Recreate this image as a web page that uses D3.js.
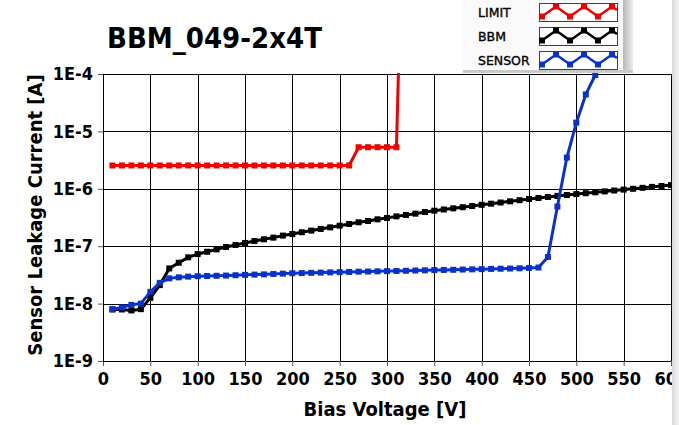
<!DOCTYPE html>
<html>
<head>
<meta charset="utf-8">
<script src="https://cdn.jsdelivr.net/npm/d3@7"></script>
<style>
  html, body { margin: 0; padding: 0; background: #ffffff; }
  svg { display: block; }
</style>
</head>
<body>
<svg id="chart" width="679" height="425"></svg>
<script>
// ---------------- data ----------------
const chartTitle = "BBM_049-2x4T";
const xTickValues = [0, 50, 100, 150, 200, 250, 300, 350, 400, 450, 500, 550, 600];
const yTickValues = [1e-9, 1e-8, 1e-7, 1e-6, 1e-5, 1e-4];
const yTickLabels = ["1E-9", "1E-8", "1E-7", "1E-6", "1E-5", "1E-4"];
const seriesNames = ["LIMIT", "BBM", "SENSOR"];
const seriesColors = ["#f00000", "#000000", "#0a32c8"];

const limitVoltage = [10, 20, 30, 40, 50, 60, 70, 80, 90, 100, 110, 120, 130, 140, 150, 160, 170, 180, 190, 200,
  210, 220, 230, 240, 250, 260, 270, 280, 290, 300, 310, 320];
const limitCurrent = [2.55e-6, 2.55e-6, 2.55e-6, 2.55e-6, 2.55e-6, 2.55e-6, 2.55e-6, 2.55e-6, 2.55e-6, 2.55e-6,
  2.55e-6, 2.55e-6, 2.55e-6, 2.55e-6, 2.55e-6, 2.55e-6, 2.55e-6, 2.55e-6, 2.55e-6, 2.55e-6,
  2.55e-6, 2.55e-6, 2.55e-6, 2.55e-6, 2.55e-6, 2.55e-6, 5.3e-6, 5.3e-6, 5.3e-6, 5.3e-6, 5.3e-6, 10];

const bbmVoltage = [10, 20, 30, 40, 50, 60, 70, 80, 90, 100, 110, 120, 130, 140, 150, 160, 170, 180, 190, 200,
  210, 220, 230, 240, 250, 260, 270, 280, 290, 300, 310, 320, 330, 340, 350, 360, 370, 380, 390, 400,
  410, 420, 430, 440, 450, 460, 470, 480, 490, 500, 510, 520, 530, 540, 550, 560, 570, 580, 590, 600];
const bbmCurrent = [7.9e-9, 7.9e-9, 7.6e-9, 8.0e-9, 1.26e-8, 2.1e-8, 4.1e-8, 5.15e-8, 6.4e-8, 7.3e-8,
  8.0e-8, 8.8e-8, 9.7e-8, 1.05e-7, 1.14e-7, 1.23e-7, 1.32e-7, 1.41e-7, 1.53e-7, 1.63e-7,
  1.75e-7, 1.87e-7, 2.0e-7, 2.13e-7, 2.28e-7, 2.44e-7, 2.61e-7, 2.75e-7, 2.94e-7, 3.10e-7,
  3.31e-7, 3.50e-7, 3.69e-7, 3.94e-7, 4.16e-7, 4.36e-7, 4.57e-7, 4.78e-7, 5.01e-7, 5.26e-7,
  5.50e-7, 5.77e-7, 6.05e-7, 6.33e-7, 6.64e-7, 6.92e-7, 7.20e-7, 7.50e-7, 7.80e-7, 8.09e-7,
  8.38e-7, 8.69e-7, 9.01e-7, 9.34e-7, 9.68e-7, 1.00e-6, 1.04e-6, 1.08e-6, 1.12e-6, 1.16e-6];

const sensorVoltage = [10, 20, 30, 40, 50, 60, 70, 80, 90, 100, 110, 120, 130, 140, 150, 160, 170, 180, 190, 200,
  210, 220, 230, 240, 250, 260, 270, 280, 290, 300, 310, 320, 330, 340, 350, 360, 370, 380, 390, 400,
  410, 420, 430, 440, 450, 460, 470, 480, 490, 500, 510, 520];
const sensorCurrent = [8.0e-9, 8.6e-9, 9.5e-9, 1.0e-8, 1.6e-8, 2.3e-8, 2.75e-8, 2.87e-8, 2.95e-8, 3.0e-8,
  3.02e-8, 3.05e-8, 3.08e-8, 3.12e-8, 3.17e-8, 3.2e-8, 3.23e-8, 3.28e-8, 3.33e-8, 3.38e-8,
  3.40e-8, 3.43e-8, 3.47e-8, 3.50e-8, 3.53e-8, 3.56e-8, 3.6e-8, 3.62e-8, 3.65e-8, 3.68e-8,
  3.70e-8, 3.73e-8, 3.77e-8, 3.80e-8, 3.84e-8, 3.86e-8, 3.88e-8, 3.92e-8, 3.95e-8, 3.98e-8,
  4.02e-8, 4.05e-8, 4.08e-8, 4.12e-8, 4.18e-8, 4.25e-8, 6.5e-8, 4.9e-7, 3.5e-6, 1.42e-5,
  4.4e-5, 9.6e-5];

// ---------------- layout ----------------
const svg = d3.select("#chart");
const W = 679, H = 425;
const plot = { left: 103, right: 671, top: 74, bottom: 361 };
const FONT = "'DejaVu Sans Condensed', 'DejaVu Sans', Verdana, sans-serif";
const FONT_SMALL = "'DejaVu Sans', Verdana, sans-serif";

const x = d3.scaleLinear().domain([0, 600]).range([plot.left, plot.right]);
const y = d3.scaleLog().domain([1e-9, 1e-4]).range([plot.bottom, plot.top]);

svg.append("rect").attr("width", W).attr("height", H).attr("fill", "#ffffff");

svg.append("defs").append("clipPath").attr("id", "plotclip")
  .append("rect").attr("x", plot.left).attr("y", plot.top - 1)
  .attr("width", plot.right - plot.left).attr("height", plot.bottom - plot.top + 2);

// grid
const grid = svg.append("g").attr("shape-rendering", "crispEdges");
grid.selectAll("line.vx").data(xTickValues).join("line")
  .attr("x1", d => Math.round(x(d)) + 0.5).attr("x2", d => Math.round(x(d)) + 0.5)
  .attr("y1", plot.top).attr("y2", plot.bottom)
  .attr("stroke", "#000").attr("stroke-width", 1);
grid.selectAll("line.hy").data(yTickValues).join("line")
  .attr("y1", d => Math.round(y(d)) + 0.5).attr("y2", d => Math.round(y(d)) + 0.5)
  .attr("x1", plot.left).attr("x2", plot.right)
  .attr("stroke", "#000").attr("stroke-width", 1);

// axes
const xAxis = d3.axisBottom(x).tickValues(xTickValues).tickSize(5).tickPadding(6).tickFormat(d3.format("d"));
const gx = svg.append("g").attr("transform", `translate(0,${plot.bottom})`).call(xAxis);
gx.select(".domain").attr("stroke", "#000");
gx.selectAll(".tick line").attr("stroke", "#555");
gx.selectAll("text").attr("font-family", FONT).attr("font-weight", "bold")
  .attr("font-size", 18).attr("fill", "#000");

const yAxis = d3.axisLeft(y).tickValues(yTickValues).tickSize(5).tickPadding(5)
  .tickFormat((d, i) => yTickLabels[i]);
const gy = svg.append("g").attr("transform", `translate(${plot.left},0)`).call(yAxis);
gy.select(".domain").attr("stroke", "#000");
gy.selectAll(".tick line").attr("stroke", "#555");
gy.selectAll("text").attr("font-family", FONT).attr("font-weight", "bold")
  .attr("font-size", 18).attr("fill", "#000");

// axis titles
svg.append("text").attr("x", 385).attr("y", 416).attr("text-anchor", "middle")
  .attr("font-family", FONT).attr("font-weight", "bold").attr("font-size", 20)
  .text("Bias Voltage [V]");
svg.append("text").attr("transform", "translate(42,215) rotate(-90)").attr("text-anchor", "middle")
  .attr("font-family", FONT).attr("font-weight", "bold").attr("font-size", 20)
  .text("Sensor Leakage Current [A]");

// title
svg.append("text").attr("x", 107).attr("y", 48)
  .attr("font-family", FONT).attr("font-weight", "bold").attr("font-size", 29)
  .text(chartTitle);

// series
const series = [
  { name: seriesNames[0], color: seriesColors[0], v: limitVoltage, c: limitCurrent },
  { name: seriesNames[1], color: seriesColors[1], v: bbmVoltage, c: bbmCurrent },
  { name: seriesNames[2], color: seriesColors[2], v: sensorVoltage, c: sensorCurrent }
];
const line = d3.line().x(d => x(d[0])).y(d => y(d[1]));
const dataG = svg.append("g").attr("clip-path", "url(#plotclip)");
series.forEach(s => {
  const pts = s.v.map((v, i) => [v, s.c[i]]);
  dataG.append("path").datum(pts).attr("d", line)
    .attr("fill", "none").attr("stroke", s.color).attr("stroke-width", 3)
    .attr("stroke-linejoin", "round");
  dataG.selectAll(null).data(pts).join("rect")
    .attr("x", d => x(d[0]) - 3).attr("y", d => y(d[1]) - 3)
    .attr("width", 6).attr("height", 6).attr("fill", s.color);
});

// legend
const leg = svg.append("g");
leg.append("rect").attr("x", 463).attr("y", 0).attr("width", 160).attr("height", 71).attr("fill", "#fafafa");
const shadow = svg.append("defs").append("linearGradient").attr("id", "shade");
shadow.append("stop").attr("offset", "0%").attr("stop-color", "#b8b8b8");
shadow.append("stop").attr("offset", "100%").attr("stop-color", "#ececec");
leg.append("rect").attr("x", 623).attr("y", 0).attr("width", 10).attr("height", 72).attr("fill", "url(#shade)");
leg.append("rect").attr("x", 463).attr("y", 70).attr("width", 170).attr("height", 3).attr("fill", "#c8c8c8");

series.forEach((s, i) => {
  const top = 3 + i * 24;
  leg.append("text").attr("x", 478).attr("y", top + 14)
    .attr("font-family", FONT_SMALL).attr("font-size", 12.5)
    .attr("fill", "#000").attr("stroke", "#000").attr("stroke-width", 0.35).text(s.name);
  leg.append("rect").attr("x", 539.5).attr("y", top + 0.5).attr("width", 78).attr("height", 18)
    .attr("fill", "#fff").attr("stroke", "#404040").attr("stroke-width", 1);
  const zx = [542, 556, 570, 584, 598, 612, 617];
  const zy = zx.map((d, k) => k === 6 ? top + 7 : (k % 2 === 0 ? top + 13.5 : top + 3.5));
  const zp = zx.map((d, k) => [d, zy[k]]);
  leg.append("path").attr("d", d3.line()(zp)).attr("fill", "none")
    .attr("stroke", s.color).attr("stroke-width", 2.5);
  leg.selectAll(null).data(zp.slice(0, 6)).join("rect")
    .attr("x", d => d[0] - 3).attr("y", d => d[1] - 3).attr("width", 6).attr("height", 6)
    .attr("fill", s.color);
});

// right window frame strip
const frame = svg.append("defs").append("linearGradient").attr("id", "frame");
frame.append("stop").attr("offset", "0%").attr("stop-color", "#d8d8d8");
frame.append("stop").attr("offset", "100%").attr("stop-color", "#f2f2f2");
svg.append("rect").attr("x", 672).attr("y", 0).attr("width", 7).attr("height", H).attr("fill", "url(#frame)");
</script>
</body>
</html>
